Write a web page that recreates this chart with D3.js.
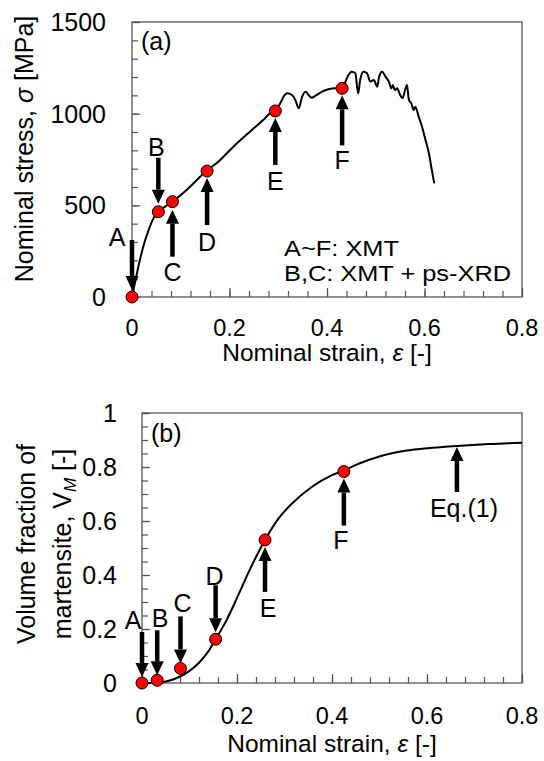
<!DOCTYPE html>
<html><head><meta charset="utf-8">
<script src="https://cdn.jsdelivr.net/npm/d3@7"></script>
<style>
body{margin:0;background:#fff}
svg{display:block}
text{font-family:Arial,"Liberation Sans",sans-serif;fill:#000}
</style>
</head><body>
<svg id="c" width="544" height="761"></svg>
<script>
// ---------- DATA ----------
// Panel (a): stress-strain curve
const strainA = [0, 0.003, 0.013, 0.023, 0.034, 0.044, 0.054, 0.068, 0.083, 0.112, 0.153, 0.177, 0.208, 0.242, 0.269, 0.287, 0.294, 0.304, 0.311, 0.318, 0.328, 0.335, 0.342, 0.349, 0.356, 0.362, 0.369, 0.379, 0.390, 0.403, 0.417, 0.431, 0.438, 0.444, 0.451, 0.458, 0.464, 0.468, 0.475, 0.482, 0.489, 0.496, 0.503, 0.507, 0.513, 0.520, 0.527, 0.532, 0.535, 0.539, 0.544, 0.550, 0.555, 0.561, 0.564, 0.568, 0.573, 0.578, 0.581, 0.588, 0.595, 0.602, 0.609, 0.615, 0.620];
const stressA = [0, 38, 165, 274, 365, 429, 465, 493, 520, 584, 689, 738, 820, 902, 965, 1011, 1020, 1056, 1093, 1111, 1102, 1075, 1029, 1093, 1120, 1102, 1087, 1102, 1120, 1133, 1138, 1138, 1175, 1211, 1229, 1220, 1111, 1184, 1229, 1220, 1175, 1184, 1147, 1202, 1229, 1202, 1175, 1138, 1156, 1129, 1138, 1102, 1084, 1138, 1156, 1075, 1056, 1020, 1038, 984, 929, 856, 784, 693, 620];
const markerLabels = ["A", "B", "C", "D", "E", "F"];
const markerStrainA = [0, 0.054, 0.083, 0.154, 0.294, 0.431];
const markerStressA = [0, 465, 520, 687, 1015, 1138];
// Panel (b): volume fraction of martensite, Eq.(1)
const strainB = [0, 0.032, 0.045, 0.06, 0.08, 0.1, 0.12, 0.14, 0.155, 0.178, 0.2, 0.227, 0.259, 0.29, 0.316, 0.358, 0.4, 0.425, 0.456, 0.498, 0.554, 0.611, 0.663, 0.73, 0.8];
const fractionB = [0, 0, 0.004, 0.01, 0.024, 0.045, 0.075, 0.118, 0.162, 0.233, 0.315, 0.42, 0.53, 0.615, 0.665, 0.727, 0.77, 0.787, 0.812, 0.838, 0.86, 0.871, 0.878, 0.885, 0.89];
const markerStrainB = [0, 0.032, 0.081, 0.155, 0.259, 0.425];
const markerFractionB = [0, 0.01, 0.054, 0.162, 0.53, 0.783];
const eqLabel = "Eq.(1)";
const eqStrain = 0.663, eqFraction = 0.878;
// Tick labels
const xTickValues = [0, 0.2, 0.4, 0.6, 0.8];
const xTickLabels = ["0", "0.2", "0.4", "0.6", "0.8"];
const yTickValuesA = [0, 500, 1000, 1500];
const yTickLabelsA = ["0", "500", "1000", "1500"];
const yTickValuesB = [0, 0.2, 0.4, 0.6, 0.8, 1];
const yTickLabelsB = ["0", "0.2", "0.4", "0.6", "0.8", "1"];
const noteLines = ["A~F: XMT", "B,C: XMT + ps-XRD"];

// ---------- LAYOUT (pixel offsets for annotations) ----------
const layoutA = [
  {dir: -1, tip: 7, len: 50, ldx: -15, ldy: -60},
  {dir: -1, tip: 8, len: 46, ldx: -2, ldy: -65},
  {dir: 1, tip: 8, len: 47, ldx: 0, ldy: 70},
  {dir: 1, tip: 7, len: 47, ldx: 0, ldy: 71},
  {dir: 1, tip: 7, len: 47, ldx: 0, ldy: 70},
  {dir: 1, tip: 7, len: 50, ldx: 0, ldy: 72}
];
const layoutB = [
  {dir: -1, tip: 6, len: 45, ldx: -9, ldy: -63},
  {dir: -1, tip: 5, len: 45, ldx: 3, ldy: -62},
  {dir: -1, tip: 5, len: 47, ldx: 2, ldy: -65},
  {dir: -1, tip: 7, len: 47, ldx: -1, ldy: -63},
  {dir: 1, tip: 7, len: 45, ldx: 3, ldy: 68},
  {dir: 1, tip: 7, len: 47, ldx: -3, ldy: 68}
];
const noteWidths = [115, 227];

const svg = d3.select("#c");
const FS = 25, TFS = 23.5, TITLE = 24.5;
const frameColor = "#555";

function drawFrame(x, y) {
  const [x0, x1] = x.range(), [y0, y1] = y.range();
  svg.append("rect").attr("x", x0).attr("y", y1).attr("width", x1 - x0).attr("height", y0 - y1)
    .attr("fill", "none").attr("stroke", frameColor).attr("stroke-width", 1.3);
}
function drawTicks(x, y, xMinor, xMajor, yMinor, yMajor) {
  const [y0] = y.range(), [x0] = x.range();
  const mk = (gen, tf) => {
    const g = svg.append("g").attr("transform", tf).call(gen);
    g.select(".domain").remove();
    g.selectAll("line").attr("stroke", frameColor).attr("stroke-width", 1.2);
    g.selectAll("text").remove();
  };
  mk(d3.axisBottom(x).tickValues(xMinor).tickSize(-6), `translate(0,${y0})`);
  mk(d3.axisBottom(x).tickValues(xMajor).tickSize(-9), `translate(0,${y0})`);
  mk(d3.axisLeft(y).tickValues(yMinor).tickSize(-6), `translate(${x0},0)`);
  mk(d3.axisLeft(y).tickValues(yMajor).tickSize(-8), `translate(${x0},0)`);
}
function drawTickLabels(x, y, xv, xl, yv, yl, xBase, yRight) {
  const [y0] = y.range();
  svg.append("g").selectAll("text").data(xv).join("text")
    .attr("x", d => x(d)).attr("y", y0 + xBase).attr("text-anchor", "middle")
    .attr("font-size", TFS).text((d, i) => xl[i]);
  svg.append("g").selectAll("text").data(yv).join("text")
    .attr("x", yRight).attr("y", d => y(d)).attr("dy", "0.36em").attr("text-anchor", "end")
    .attr("font-size", FS).text((d, i) => yl[i]);
}
function arrow(cx, cy, lay) {
  const tipY = cy + lay.dir * lay.tip;
  const headL = 14, headW = 6.5;
  const baseY = tipY + lay.dir * headL;
  const endY = tipY + lay.dir * lay.len;
  svg.append("line").attr("x1", cx).attr("x2", cx).attr("y1", baseY).attr("y2", endY)
    .attr("stroke", "#000").attr("stroke-width", 4.5);
  svg.append("path").attr("d", `M${cx},${tipY}L${cx - headW},${baseY}L${cx + headW},${baseY}Z`).attr("fill", "#000");
}
function xTitle(x, yPos) {
  const t = svg.append("text").attr("x", d3.mean(x.range())).attr("y", yPos)
    .attr("text-anchor", "middle").attr("font-size", TITLE);
  t.append("tspan").text("Nominal strain, ");
  t.append("tspan").attr("font-style", "italic").text("ε");
  t.append("tspan").text(" [-]");
}

// ---------- PANEL (a) ----------
const xA = d3.scaleLinear([0, 0.8], [132, 522]);
const yA = d3.scaleLinear([0, 1500], [297, 22]);
drawTicks(xA, yA, d3.range(0, 21).map(i => i * 0.04), xTickValues, d3.range(0, 16).map(i => i * 100), yTickValuesA);
drawFrame(xA, yA);
drawTickLabels(xA, yA, xTickValues, xTickLabels, yTickValuesA, yTickLabelsA, 39, 106);
svg.append("path").datum(strainA.map((s, i) => [s, stressA[i]]))
  .attr("d", d3.line().x(d => xA(d[0])).y(d => yA(d[1])).curve(d3.curveMonotoneX))
  .attr("fill", "none").attr("stroke", "#000").attr("stroke-width", 2);
markerLabels.forEach((k, i) => {
  const cx = xA(markerStrainA[i]), cy = yA(markerStressA[i]), L = layoutA[i];
  arrow(cx, cy, L);
  svg.append("text").attr("x", cx + L.ldx).attr("y", cy + L.ldy).attr("dy", "0.36em")
    .attr("text-anchor", "middle").attr("font-size", FS).text(k);
});
svg.append("g").selectAll("circle").data(markerStrainA).join("circle")
  .attr("cx", d => xA(d)).attr("cy", (d, i) => yA(markerStressA[i])).attr("r", 6)
  .attr("fill", "#ff0000").attr("stroke", "#000").attr("stroke-width", 1);
svg.append("text").attr("x", 141).attr("y", 50).attr("font-size", FS).text("(a)");
noteLines.forEach((s, i) => svg.append("text").attr("x", 284).attr("y", 256 + i * 25)
  .attr("font-size", 22).attr("textLength", noteWidths[i]).attr("lengthAdjust", "spacingAndGlyphs").text(s));
xTitle(xA, 361);
{
  const t = svg.append("text").attr("transform", `translate(33,149) rotate(-90)`)
    .attr("text-anchor", "middle").attr("font-size", FS);
  t.append("tspan").text("Nominal stress, ");
  t.append("tspan").attr("font-style", "italic").text("σ");
  t.append("tspan").text(" [MPa]");
}

// ---------- PANEL (b) ----------
const xB = d3.scaleLinear([0, 0.8], [142, 522]);
const yB = d3.scaleLinear([0, 1], [683, 413]);
drawTicks(xB, yB, d3.range(0, 21).map(i => i * 0.04), xTickValues, d3.range(0, 21).map(i => i * 0.05), yTickValuesB);
drawFrame(xB, yB);
drawTickLabels(xB, yB, xTickValues, xTickLabels, yTickValuesB, yTickLabelsB, 41, 117);
svg.append("path").datum(strainB.map((s, i) => [s, fractionB[i]]))
  .attr("d", d3.line().x(d => xB(d[0])).y(d => yB(d[1])).curve(d3.curveMonotoneX))
  .attr("fill", "none").attr("stroke", "#000").attr("stroke-width", 2);
markerLabels.forEach((k, i) => {
  const cx = xB(markerStrainB[i]), cy = yB(markerFractionB[i]), L = layoutB[i];
  arrow(cx, cy, L);
  svg.append("text").attr("x", cx + L.ldx).attr("y", cy + L.ldy).attr("dy", "0.36em")
    .attr("text-anchor", "middle").attr("font-size", FS).text(k);
});
{
  const cx = xB(eqStrain), cy = yB(eqFraction);
  arrow(cx, cy, {dir: 1, tip: 1, len: 45});
  svg.append("text").attr("x", cx + 7).attr("y", cy + 62).attr("dy", "0.36em")
    .attr("text-anchor", "middle").attr("font-size", FS).text(eqLabel);
}
svg.append("g").selectAll("circle").data(markerStrainB).join("circle")
  .attr("cx", d => xB(d)).attr("cy", (d, i) => yB(markerFractionB[i])).attr("r", 6)
  .attr("fill", "#ff0000").attr("stroke", "#000").attr("stroke-width", 1);
svg.append("text").attr("x", 151).attr("y", 442).attr("font-size", FS).text("(b)");
xTitle(xB, 752);
{
  const g = svg.append("g").attr("transform", "translate(0,544)");
  g.append("text").attr("transform", "translate(35,0) rotate(-90)").attr("text-anchor", "middle")
    .attr("font-size", FS).text("Volume fraction of");
  const t = g.append("text").attr("transform", "translate(71,0) rotate(-90)").attr("text-anchor", "middle")
    .attr("font-size", FS);
  t.append("tspan").text("martensite, V");
  t.append("tspan").attr("font-style", "italic").attr("font-size", 17).attr("dy", 5).text("M");
  t.append("tspan").attr("dy", -5).text(" [-]");
}
</script>
</body></html>
